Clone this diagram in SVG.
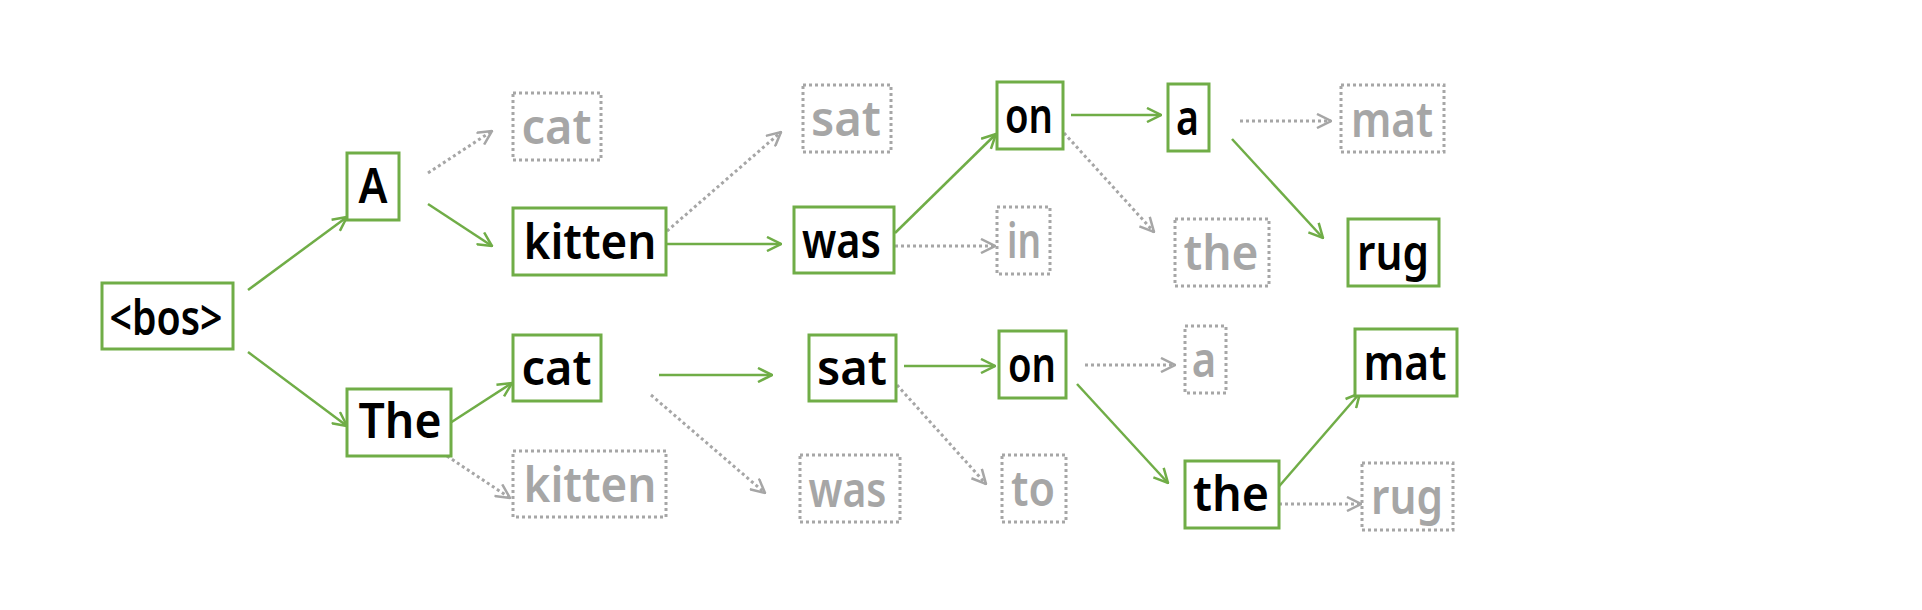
<svg xmlns="http://www.w3.org/2000/svg" width="1922" height="610" viewBox="0 0 1922 610">
<style>
.g rect{fill:#fff;stroke:#70AD47;stroke-width:3}
.d rect{fill:#fff;stroke:#A6A6A6;stroke-width:3;stroke-dasharray:3 3}
text{font-family:"Comic Sans MS","Noto Sans",sans-serif;font-size:48px;font-weight:600;text-anchor:middle}
.g text{fill:#000}
.d text{fill:#A6A6A6}
.cg{stroke:#70AD47;stroke-width:2.5;fill:none;marker-end:url(#ag)}
.cd{stroke:#A6A6A6;stroke-width:3;stroke-dasharray:3 3;fill:none;marker-end:url(#ad)}
</style>
<defs>
<marker id="ag" markerUnits="userSpaceOnUse" viewBox="0 0 16 16" markerWidth="16" markerHeight="16" refX="15" refY="8" orient="auto">
<path d="M1,1 L15,8 L1,15" fill="none" stroke="#70AD47" stroke-width="2.5"/>
</marker>
<marker id="ad" markerUnits="userSpaceOnUse" viewBox="0 0 16 16" markerWidth="16" markerHeight="16" refX="15" refY="8" orient="auto">
<path d="M1,1 L15,8 L1,15" fill="none" stroke="#A6A6A6" stroke-width="2.5"/>
</marker>
</defs>
<rect width="1922" height="610" fill="#fff"/>
<g id="connectors">
<line class="cg" x1="248" y1="290" x2="347" y2="217"/>
<line class="cg" x1="248" y1="352" x2="347" y2="426"/>
<line class="cg" x1="428" y1="204" x2="492" y2="246"/>
<line class="cg" x1="447" y1="425" x2="512" y2="383"/>
<line class="cg" x1="667" y1="244" x2="781" y2="244"/>
<line class="cg" x1="659" y1="375" x2="772" y2="375"/>
<line class="cg" x1="895" y1="233" x2="996" y2="134"/>
<line class="cg" x1="904" y1="366" x2="995" y2="366"/>
<line class="cg" x1="1071" y1="115" x2="1161" y2="115"/>
<line class="cg" x1="1232" y1="139" x2="1323" y2="238"/>
<line class="cg" x1="1077" y1="384" x2="1168" y2="483"/>
<line class="cg" x1="1275" y1="491" x2="1360" y2="393"/>
<line class="cd" x1="428" y1="173" x2="492" y2="131"/>
<line class="cd" x1="447" y1="456" x2="510" y2="498"/>
<line class="cd" x1="667" y1="231" x2="781" y2="132"/>
<line class="cd" x1="651" y1="395" x2="765" y2="493"/>
<line class="cd" x1="895" y1="246" x2="995" y2="246"/>
<line class="cd" x1="1064" y1="133" x2="1154" y2="232"/>
<line class="cd" x1="1240" y1="121" x2="1331" y2="121"/>
<line class="cd" x1="897" y1="385" x2="986" y2="484"/>
<line class="cd" x1="1085" y1="365" x2="1175" y2="365"/>
<line class="cd" x1="1279" y1="504" x2="1361" y2="504"/>
</g>
<g id="n-bos" class="g"><rect x="102" y="283" width="131" height="66"/><text x="166" y="335" textLength="113" lengthAdjust="spacingAndGlyphs">&lt;bos&gt;</text></g>
<g id="n-A" class="g"><rect x="347" y="153" width="52" height="67"/><text x="373" y="203" textLength="29" lengthAdjust="spacingAndGlyphs">A</text></g>
<g id="n-The" class="g"><rect x="347" y="389" width="104" height="67"/><text x="400" y="438" textLength="83" lengthAdjust="spacingAndGlyphs">The</text></g>
<g id="n-kitten" class="g"><rect x="513" y="208" width="153" height="67"/><text x="590" y="259" textLength="133" lengthAdjust="spacingAndGlyphs">kitten</text></g>
<g id="n-cat" class="g"><rect x="513" y="335" width="88" height="66"/><text x="556.5" y="385" textLength="70" lengthAdjust="spacingAndGlyphs">cat</text></g>
<g id="n-was" class="g"><rect x="794" y="207" width="100" height="66"/><text x="841.5" y="258" textLength="79" lengthAdjust="spacingAndGlyphs">was</text></g>
<g id="n-sat" class="g"><rect x="809" y="335" width="87" height="66"/><text x="852" y="385" textLength="70" lengthAdjust="spacingAndGlyphs">sat</text></g>
<g id="n-on1" class="g"><rect x="997" y="82" width="66" height="67"/><text x="1029" y="133" textLength="48" lengthAdjust="spacingAndGlyphs">on</text></g>
<g id="n-on2" class="g"><rect x="999" y="331" width="67" height="67"/><text x="1032" y="382" textLength="48" lengthAdjust="spacingAndGlyphs">on</text></g>
<g id="n-a1" class="g"><rect x="1168" y="84" width="41" height="67"/><text x="1187.5" y="135" textLength="23" lengthAdjust="spacingAndGlyphs">a</text></g>
<g id="n-the2" class="g"><rect x="1185" y="461" width="94" height="67"/><text x="1231" y="511" textLength="76" lengthAdjust="spacingAndGlyphs">the</text></g>
<g id="n-rug1" class="g"><rect x="1348" y="219" width="91" height="67"/><text x="1393" y="270" textLength="72" lengthAdjust="spacingAndGlyphs">rug</text></g>
<g id="n-mat2" class="g"><rect x="1355" y="329" width="102" height="67"/><text x="1405" y="380" textLength="83" lengthAdjust="spacingAndGlyphs">mat</text></g>
<g id="d-cat" class="d"><rect x="513" y="93" width="88" height="67"/><text x="556.5" y="144" textLength="70" lengthAdjust="spacingAndGlyphs">cat</text></g>
<g id="d-kitten" class="d"><rect x="513" y="451" width="153" height="66"/><text x="590" y="502" textLength="133" lengthAdjust="spacingAndGlyphs">kitten</text></g>
<g id="d-sat" class="d"><rect x="803" y="85" width="88" height="67"/><text x="846" y="136" textLength="70" lengthAdjust="spacingAndGlyphs">sat</text></g>
<g id="d-in" class="d"><rect x="997" y="207" width="53" height="67"/><text x="1024" y="258" textLength="34" lengthAdjust="spacingAndGlyphs">in</text></g>
<g id="d-the1" class="d"><rect x="1175" y="219" width="94" height="67"/><text x="1221" y="270" textLength="75" lengthAdjust="spacingAndGlyphs">the</text></g>
<g id="d-mat1" class="d"><rect x="1341" y="85" width="103" height="67"/><text x="1392" y="137" textLength="82" lengthAdjust="spacingAndGlyphs">mat</text></g>
<g id="d-a2" class="d"><rect x="1185" y="326" width="41" height="67"/><text x="1204" y="377" textLength="24.5" lengthAdjust="spacingAndGlyphs">a</text></g>
<g id="d-was" class="d"><rect x="800" y="455" width="100" height="67"/><text x="847.5" y="507" textLength="78" lengthAdjust="spacingAndGlyphs">was</text></g>
<g id="d-to" class="d"><rect x="1002" y="455" width="64" height="67"/><text x="1033" y="506" textLength="44" lengthAdjust="spacingAndGlyphs">to</text></g>
<g id="d-rug2" class="d"><rect x="1362" y="463" width="91" height="67"/><text x="1407" y="514" textLength="72" lengthAdjust="spacingAndGlyphs">rug</text></g>
</svg>
